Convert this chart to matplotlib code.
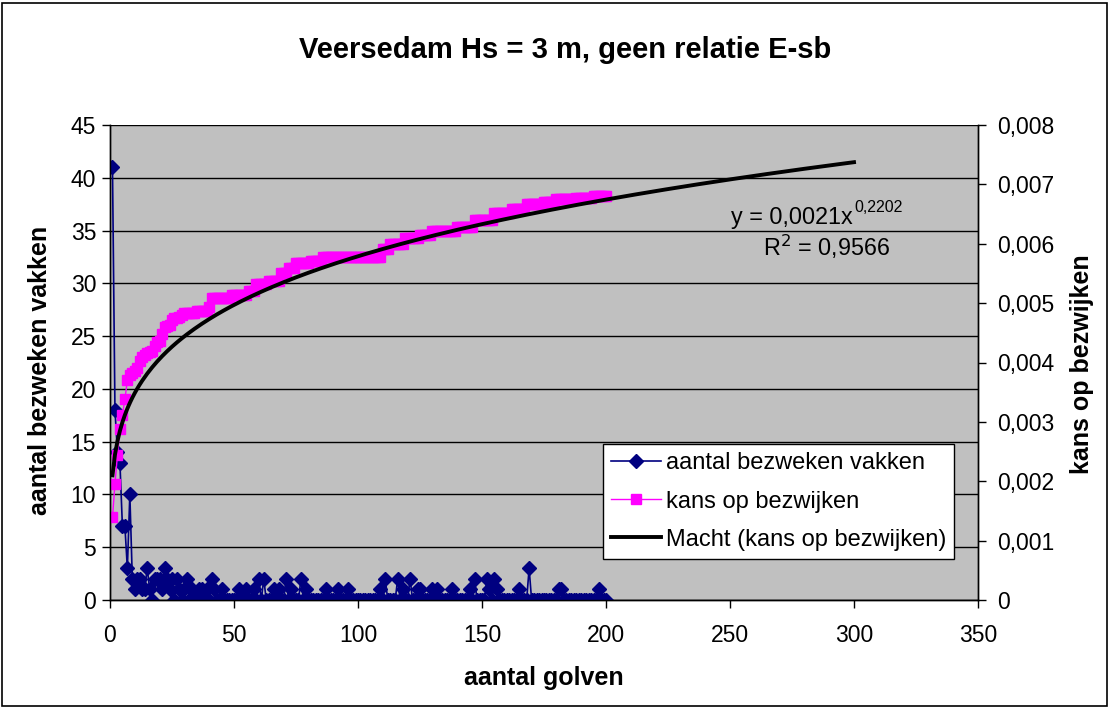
import numpy as np
import matplotlib.pyplot as plt
from matplotlib.lines import Line2D
from matplotlib.patches import Rectangle

plt.rcParams['font.family'] = ['Liberation Sans', 'DejaVu Sans']

# wave number 1..200
golven = np.arange(1, 201)

# number of failed sections per wave
bezweken = [
    41, 18, 14, 13, 7, 7, 3, 10, 2, 1,
    2, 2, 1, 1, 3, 1, 0, 2, 2, 2,
    1, 3, 2, 1, 2, 0, 2, 1, 0, 1,
    2, 0, 1, 0, 0, 1, 1, 0, 1, 0,
    2, 1, 0, 0, 1, 0, 0, 0, 0, 0,
    0, 1, 0, 0, 1, 0, 0, 1, 0, 2,
    0, 2, 0, 0, 0, 1, 0, 1, 0, 0,
    2, 0, 1, 0, 0, 0, 2, 0, 1, 0,
    0, 0, 0, 0, 0, 0, 1, 0, 0, 0,
    0, 1, 0, 0, 0, 1, 0, 0, 0, 0,
    0, 0, 0, 0, 0, 0, 0, 0, 1, 0,
    2, 0, 0, 0, 0, 2, 0, 1, 0, 0,
    2, 0, 0, 1, 1, 0, 0, 0, 0, 1,
    0, 1, 0, 0, 0, 0, 0, 1, 0, 0,
    0, 0, 0, 0, 1, 0, 2, 0, 0, 0,
    0, 2, 1, 0, 2, 1, 0, 0, 0, 0,
    0, 0, 0, 0, 1, 0, 0, 0, 3, 0,
    0, 0, 0, 0, 0, 0, 0, 0, 0, 0,
    1, 1, 0, 0, 0, 0, 0, 0, 0, 0,
    0, 0, 0, 0, 0, 0, 1, 0, 0, 0,
]

# probability of failure per wave
kans = [
    0.00139, 0.00196, 0.00244, 0.00288, 0.00311, 0.00338, 0.00370, 0.00379, 0.00382, 0.00386,
    0.00391, 0.00402, 0.00409, 0.00412, 0.00416, 0.00418, 0.00420, 0.00428, 0.00434, 0.00437,
    0.00448, 0.00459, 0.00462, 0.00464, 0.00471, 0.00475, 0.00475, 0.00476, 0.00480, 0.00484,
    0.00484, 0.00484, 0.00484, 0.00484, 0.00486, 0.00486, 0.00486, 0.00486, 0.00486, 0.00494,
    0.00508, 0.00508, 0.00508, 0.00508, 0.00508, 0.00508, 0.00508, 0.00508, 0.00514, 0.00514,
    0.00514, 0.00514, 0.00514, 0.00514, 0.00514, 0.00521, 0.00521, 0.00521, 0.00532, 0.00532,
    0.00532, 0.00532, 0.00532, 0.00537, 0.00537, 0.00537, 0.00537, 0.00537, 0.00551, 0.00551,
    0.00551, 0.00560, 0.00560, 0.00560, 0.00567, 0.00567, 0.00567, 0.00567, 0.00567, 0.00567,
    0.00571, 0.00571, 0.00571, 0.00571, 0.00571, 0.00578, 0.00578, 0.00578, 0.00578, 0.00578,
    0.00578, 0.00578, 0.00578, 0.00578, 0.00578, 0.00578, 0.00578, 0.00578, 0.00578, 0.00578,
    0.00578, 0.00578, 0.00578, 0.00578, 0.00578, 0.00578, 0.00578, 0.00578, 0.00578, 0.00592,
    0.00592, 0.00592, 0.00599, 0.00599, 0.00599, 0.00599, 0.00599, 0.00599, 0.00610, 0.00610,
    0.00610, 0.00610, 0.00610, 0.00610, 0.00615, 0.00615, 0.00615, 0.00615, 0.00615, 0.00622,
    0.00622, 0.00622, 0.00622, 0.00622, 0.00622, 0.00622, 0.00622, 0.00622, 0.00622, 0.00628,
    0.00628, 0.00628, 0.00628, 0.00628, 0.00628, 0.00628, 0.00640, 0.00640, 0.00640, 0.00640,
    0.00640, 0.00640, 0.00640, 0.00640, 0.00652, 0.00652, 0.00652, 0.00652, 0.00652, 0.00652,
    0.00652, 0.00658, 0.00658, 0.00658, 0.00658, 0.00658, 0.00658, 0.00667, 0.00667, 0.00667,
    0.00667, 0.00667, 0.00667, 0.00667, 0.00670, 0.00670, 0.00670, 0.00670, 0.00670, 0.00676,
    0.00676, 0.00676, 0.00676, 0.00676, 0.00676, 0.00676, 0.00676, 0.00677, 0.00677, 0.00677,
    0.00677, 0.00677, 0.00677, 0.00677, 0.00681, 0.00681, 0.00681, 0.00681, 0.00681, 0.00681,
]

# power trendline fitted on kans: y = a * x^b
trend_a = 0.0021
trend_b = 0.2202
trend_r2 = 0.9566
trend_x = np.arange(1, 301)
trend_y = trend_a * trend_x ** trend_b

left_ticks = np.arange(0, 46, 5)
right_ticks = np.arange(0, 0.0081, 0.001)
x_ticks = np.arange(0, 351, 50)

blauw = '#000080'
roze = '#FF00FF'
fs = 16.5

fig = plt.figure(figsize=(11.10, 7.09), dpi=100)
ax = fig.add_axes([110 / 1110, 1 - 600 / 709, 868 / 1110, 475 / 709])
ax.set_facecolor('#C0C0C0')

ax.plot(golven, bezweken, color=blauw, lw=1.2, marker='D', markersize=7.5,
        markerfacecolor=blauw, markeredgecolor=blauw, zorder=3)
ax.set_xlim(0, 350)
ax.set_ylim(0, 45)
ax.set_yticks(left_ticks)
ax.set_xticks(x_ticks)
ax.yaxis.grid(True, color='black', lw=1)
ax.set_axisbelow(True)

ax2 = ax.twinx()
ax2.plot(golven, kans, color=roze, lw=1.0, marker='s', markersize=6.8,
         markerfacecolor=roze, markeredgecolor=roze, zorder=2)
ax2.plot(trend_x, trend_y, color='black', lw=2.8, zorder=3)
ax2.set_ylim(0, 0.008)
ax2.set_yticks(right_ticks)
ax2.set_yticklabels([f'{v:.3f}'.replace('.', ',') if v > 0 else '0' for v in right_ticks])

for a in (ax, ax2):
    for side in ('left', 'right', 'bottom'):
        a.spines[side].set_color('black')
        a.spines[side].set_linewidth(1)
    a.spines['top'].set_visible(False)
    a.tick_params(direction='out', length=6, width=1, colors='black', labelsize=fs)
ax.tick_params(axis='x', pad=11)
ax.tick_params(axis='y', pad=4)
ax2.tick_params(axis='y', pad=8)

# axis titles
fig.text(544 / 1110, 1 - 678 / 709, 'aantal golven', ha='center', va='center',
         fontsize=18, fontweight='bold')
fig.text(40 / 1110, 1 - 370 / 709, 'aantal bezweken vakken', ha='center', va='center',
         rotation=90, fontsize=18, fontweight='bold')
fig.text(1082 / 1110, 1 - 364 / 709, 'kans op bezwijken', ha='center', va='center',
         rotation=90, fontsize=18, fontweight='bold')

fig.text(565 / 1110, 1 - 50 / 709, 'Veersedam Hs = 3 m, geen relatie E-sb',
         ha='center', va='center', fontsize=21, fontweight='bold')

# trendline equation
ax2.annotate(f'y = {trend_a:.4f}x'.replace('.', ','), xy=(0.856, 0.805),
             xycoords='axes fraction', ha='right', va='center', fontsize=16.8)
ax2.annotate(f'{trend_b:.4f}'.replace('.', ','), xy=(0.856, 0.805), xycoords='axes fraction',
             xytext=(1, 7), textcoords='offset points',
             ha='left', va='center', fontsize=11.5)
ax2.annotate(f'R$^2$ = {trend_r2:.4f}'.replace('.', ','), xy=(0.899, 0.743),
             xycoords='axes fraction', ha='right', va='center', fontsize=16.8)

handles = [
    Line2D([], [], color=blauw, lw=1.2, marker='D', markersize=7.5),
    Line2D([], [], color=roze, lw=1.0, marker='s', markersize=6.8),
    Line2D([], [], color='black', lw=2.8),
]
labels = ['aantal bezweken vakken', 'kans op bezwijken', 'Macht (kans op bezwijken)']
leg = ax2.legend(handles, labels, loc='upper left', bbox_to_anchor=(0.568, 0.328),
                 fontsize=17, frameon=True, fancybox=False, framealpha=1,
                 edgecolor='black', borderpad=0.35, labelspacing=0.68,
                 handlelength=2.1, handletextpad=0.2, borderaxespad=0)
leg.get_frame().set_linewidth(1)

fig.patches.append(Rectangle((2 / 1110, 3 / 709), 1105 / 1110, 703 / 709,
                             transform=fig.transFigure, fill=False,
                             edgecolor='black', lw=1.2))

fig.savefig('out.png', dpi=100)
